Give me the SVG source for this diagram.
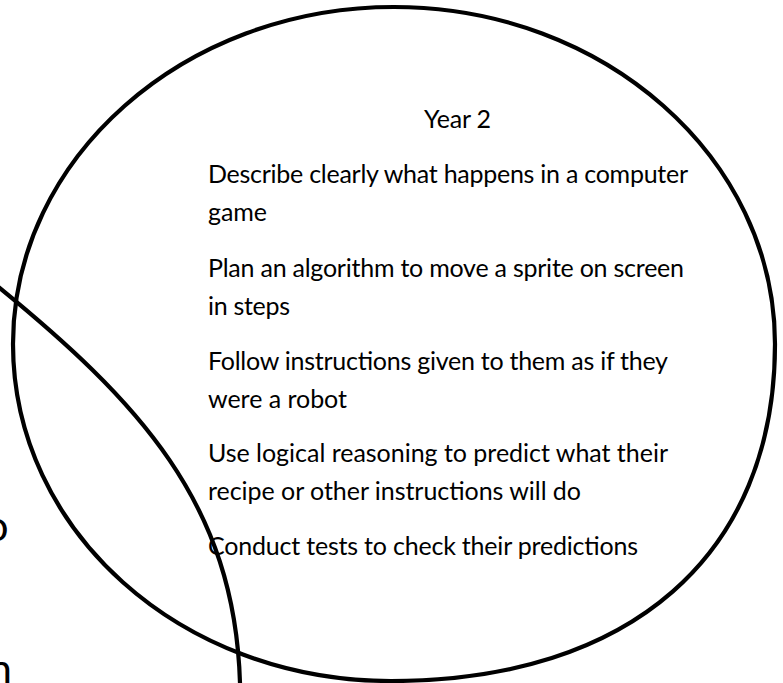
<svg xmlns="http://www.w3.org/2000/svg" width="783" height="683" viewBox="0 0 783 683">
<style>
  .shape { fill: none; stroke: #000; stroke-width: 4.2; }
  .t { font-family: Lato, "Open Sans", sans-serif; font-size: 25px; fill: #000; }
  .frag { font-family: Lato, "Open Sans", sans-serif; font-size: 42px; fill: #000; }
</style>
<rect width="783" height="683" fill="#fff"/>
<g id="connectors"></g>
<g id="left-circle">
  <path class="shape" d="M -8,281.7 C 139.7,401.7 234.6,503 240,683 L 240.3,692"/>
  <text class="frag" x="8.5" y="541" text-anchor="end">o</text>
  <text class="frag" x="12" y="684" text-anchor="end">n</text>
</g>
<g id="year2">
  <path class="shape" d="M 394,7 C 604,7 775,158 775,344 C 775,555 630,681 391,681 C 180,681 13,530 13,344 C 13,158 184,7 394,7 Z"/>
  <text class="t" x="424" y="128" textLength="67">Year 2</text>
  <text class="t" x="208" y="183" textLength="480">Describe clearly what happens in a computer</text>
  <text class="t" x="208" y="221" textLength="59">game</text>
  <text class="t" x="208" y="277" textLength="476">Plan an algorithm to move a sprite on screen</text>
  <text class="t" x="208" y="315" textLength="82">in steps</text>
  <text class="t" x="208" y="370" textLength="460">Follow instructions given to them as if they</text>
  <text class="t" x="208" y="408" textLength="139">were a robot</text>
  <text class="t" x="208" y="462" textLength="460">Use logical reasoning to predict what their</text>
  <text class="t" x="208" y="500" textLength="373">recipe or other instructions will do</text>
  <text class="t" x="208" y="555" textLength="430">Conduct tests to check their predictions</text>
</g>
</svg>
